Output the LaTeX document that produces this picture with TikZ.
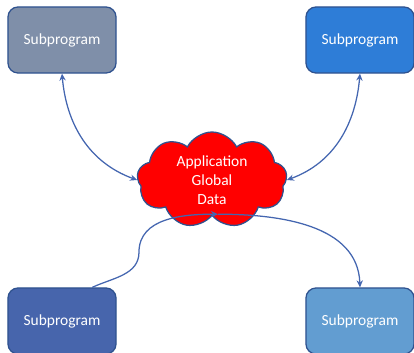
\documentclass[tikz,border=0pt]{standalone}
\usepackage{fontspec}
\setmainfont{Carlito}
\usetikzlibrary{shapes.symbols, arrows.meta}

\definecolor{edgeblue}{RGB}{47,82,143}
\definecolor{linkblue}{RGB}{68,102,176}
\definecolor{greyblue}{RGB}{127,143,169}
\definecolor{brightblue}{RGB}{46,125,215}
\definecolor{deepblue}{RGB}{71,101,172}
\definecolor{paleblue}{RGB}{98,157,209}

\tikzset{
    subprog/.style={draw=edgeblue, line width=0.9pt, rounded corners=0.25cm,
        minimum width=2.7cm, minimum height=1.65cm, text=white,
        font=\fontsize{11}{13.5}\selectfont},
    link/.style={draw=linkblue, line width=0.9pt, >={Stealth[length=5pt,width=4.5pt]}}
}

\begin{document}
\begin{tikzpicture}[x=0.025cm, y=-0.025cm]
    % Page frame (pixels, y downwards)
    \clip (0,0) rectangle (414,353);

    % The four subprograms
    \node[subprog, fill=greyblue]   (tl) at (62,40)  {Subprogram};
    \node[subprog, fill=brightblue] (tr) at (360,40) {Subprogram};
    \node[subprog, fill=deepblue]   (bl) at (62,321) {Subprogram};
    \node[subprog, fill=paleblue]   (br) at (360,321) {Subprogram};

    % Shared data in the middle
    \node[cloud, cloud puffs=9, cloud puff arc=125, aspect=1.6, draw=edgeblue,
        line width=0.9pt, fill=red, text=white, align=center, inner sep=0pt,
        minimum width=3.75cm, minimum height=2.4cm,
        font=\fontsize{11}{13.5}\selectfont] (data) at (212,180)
        {Application\\Global\\Data};
    \coordinate (hub) at ([xshift=0.15cm,yshift=0.05cm]data.south);

    % Connectors
    \draw[link, <->] (tl.south) to[out=-85, in=160] (data.west);
    \draw[link, <->] (tr.south) to[out=-95, in=20] (data.east);
    \draw[link, ->] (bl.48) to[out=25, in=-90] (139,252) to[out=90, in=180] (hub);
    \draw[link, ->] (hub) to[out=0, in=92] (br.north);

\end{tikzpicture}
\end{document}
